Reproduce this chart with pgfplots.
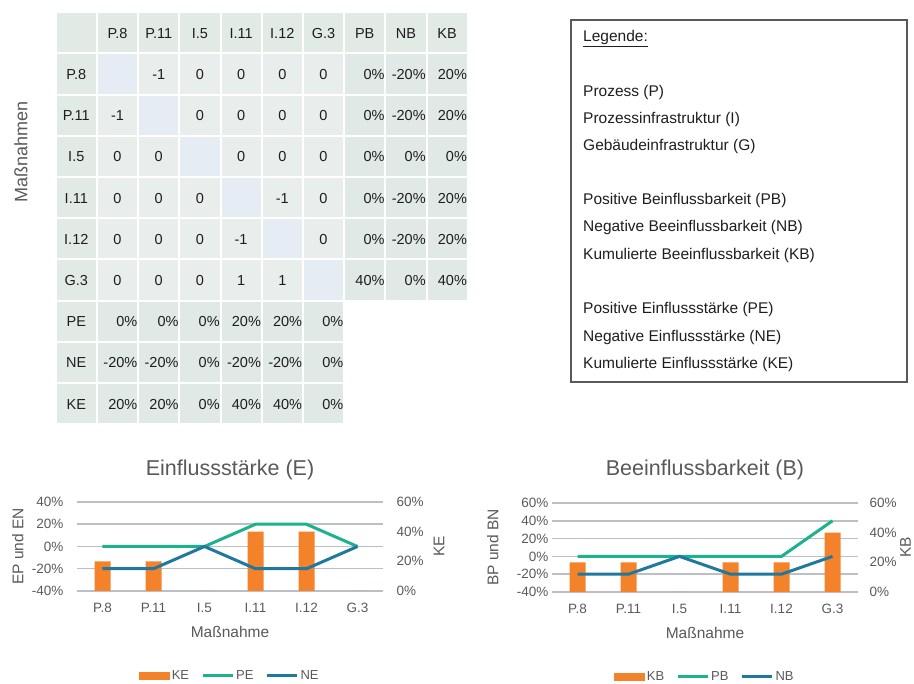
\documentclass[border=0pt]{standalone}
\usepackage{fontspec}
\setmainfont{Liberation Sans}
\usepackage{pgfplots}
\pgfplotsset{compat=1.18}

\definecolor{txt}{HTML}{595959}
\definecolor{dark}{HTML}{1E1E1E}
\definecolor{gridc}{HTML}{BCC0C6}
\definecolor{oran}{HTML}{F4822A}
\definecolor{pec}{HTML}{1BB28D}
\definecolor{nec}{HTML}{1F78A0}
\definecolor{labf}{HTML}{E2EAE6}
\definecolor{intf}{HTML}{E9EDEB}
\definecolor{pctf}{HTML}{E0E9E5}
\definecolor{diagf}{HTML}{E6ECF4}

\pgfplotsset{
  exc/.style={scale only axis, width=306pt, height=89pt, xmin=-0.5, xmax=5.5,
    axis line style={draw=none}, major tick length=0pt,
    ticklabel style={font=\fontsize{13.5}{16}\selectfont, text=txt},
    label style={font=\fontsize{15.5}{18}\selectfont, text=txt},
    title style={font=\fontsize{21.5}{24}\selectfont, text=txt},
    clip=false},
  lgd/.style={legend style={at={(axis description cs:0.5,-0.955)}, anchor=center,
    draw=none, fill=none, legend columns=-1, font=\fontsize{13}{15}\selectfont,
    text=txt, inner sep=0pt, nodes={inner sep=2pt},
    /tikz/every even column/.append style={column sep=10pt}}},
  lineleg/.style={line width=3pt, line join=round,
    legend image code/.code={\draw (0pt,0pt) -- (30pt,0pt);}},
}

\begin{document}
\begin{tikzpicture}
\path[use as bounding box] (0,0) rectangle (914pt,684pt);

% matrix of measures (pixel coordinates, y downwards)
\begin{scope}[x=1pt, y=-1pt, yshift=684pt, font=\fontsize{14.5}{17}\selectfont, text=dark]
\foreach \r [count=\j from 0] in {
  {,P.8,P.11,I.5,I.11,I.12,G.3,PB,NB,KB},
  {P.8,,-1,0,0,0,0,0\%,-20\%,20\%},
  {P.11,-1,,0,0,0,0,0\%,-20\%,20\%},
  {I.5,0,0,,0,0,0,0\%,0\%,0\%},
  {I.11,0,0,0,,-1,0,0\%,-20\%,20\%},
  {I.12,0,0,0,-1,,0,0\%,-20\%,20\%},
  {G.3,0,0,0,1,1,,40\%,0\%,40\%},
  {PE,0\%,0\%,0\%,20\%,20\%,0\%},
  {NE,-20\%,-20\%,0\%,-20\%,-20\%,0\%},
  {KE,20\%,20\%,0\%,40\%,40\%,0\%}}
{
  \foreach \t [count=\i from 0] in \r {
    \pgfmathtruncatemacro\kind{(\i==0||\j==0)?0:((\i==\j)?1:((\i>6||\j>6)?2:3))}
    \ifcase\kind \def\fc{labf}\or \def\fc{diagf}\or \def\fc{pctf}\or \def\fc{intf}\fi
    \fill[\fc] ({56.7+41.2*\i},{13.3+41.2*\j}) rectangle ++(39.2,39.2);
    \ifnum\kind=2
      \node[anchor=base east, inner sep=0pt] at ({56.7+41.2*\i+39.6},{13.3+41.2*\j+25.1}) {\t};
    \else
      \node[anchor=base, inner sep=0pt] at ({56.7+41.2*\i+19.6},{13.3+41.2*\j+25.1}) {\t};
    \fi
  }
}
\node[rotate=90, font=\fontsize{18}{20}\selectfont, text=txt] at (21,152) {Maßnahmen};

% legend box
\draw[draw=txt, line width=1.3pt] (571,20) rectangle (907,382);
\begin{scope}[every node/.style={anchor=base west, inner sep=0pt, font=\fontsize{15.5}{18}\selectfont}]
\node at (583,42) {\underline{Legende:}};
\node at (583,97) {Prozess (P)};
\node at (583,124) {Prozessinfrastruktur (I)};
\node at (583,151) {Gebäudeinfrastruktur (G)};
\node at (583,205) {Positive Beinflussbarkeit (PB)};
\node at (583,232) {Negative Beeinflussbarkeit (NB)};
\node at (583,260) {Kumulierte Beeinflussbarkeit (KB)};
\node at (583,314) {Positive Einflussstärke (PE)};
\node at (583,342) {Negative Einflussstärke (NE)};
\node at (583,369) {Kumulierte Einflussstärke (KE)};
\end{scope}

% chart grid lines (horizontal, one per left-axis tick)
\foreach \y in {502,524.25,546.5,568.75,591} \draw[gridc, line width=1.5] (77,\y) -- (383,\y);
\foreach \y in {503,520.8,538.6,556.4,574.2,592} \draw[gridc, line width=1.5] (552,\y) -- (858,\y);
\end{scope}

% ---------- Einflussstaerke ----------
\begin{axis}[exc, at={(77pt,93pt)}, anchor=south west,
  ymin=0, ymax=60, ytick={0,20,40,60}, yticklabels={0\%,20\%,40\%,60\%},
  yticklabel pos=right, xtick=\empty,
  yticklabel style={anchor=west, xshift=10pt},
  ylabel={KE}, ylabel style={at={(axis description cs:1.183,0.5)}, anchor=center}]
\addplot[ybar, bar width=16pt, fill=oran, draw=none]
  coordinates {(0,20) (1,20) (2,0) (3,40) (4,40) (5,0)};
\end{axis}
\begin{axis}[exc, lgd, at={(77pt,93pt)}, anchor=south west,
  ymin=-40, ymax=40, ytick={-40,-20,0,20,40},
  yticklabels={-40\%,-20\%,0\%,20\%,40\%},
  xtick={0,...,5}, xticklabels={P.8,P.11,I.5,I.11,I.12,G.3},
  xticklabel style={anchor=center, yshift=-17pt},
  yticklabel style={anchor=east, xshift=-10pt},
  xlabel={Maßnahme}, xlabel style={at={(axis description cs:0.5,-0.461)}, anchor=center},
  ylabel={EP und EN}, ylabel style={at={(axis description cs:-0.193,0.5)}, anchor=center},
  title={Einflussstärke (E)}, title style={at={(axis description cs:0.5,1.292)}, anchor=center}]
\addlegendimage{legend image code/.code={\fill[oran] (0pt,-3.5pt) rectangle (30pt,3.5pt);}}
\addlegendentry{KE}
\addplot[pec, lineleg] coordinates {(0,0) (1,0) (2,0) (3,20) (4,20) (5,0)};
\addlegendentry{PE}
\addplot[nec, lineleg] coordinates {(0,-20) (1,-20) (2,0) (3,-20) (4,-20) (5,0)};
\addlegendentry{NE}
\end{axis}

% ---------- Beeinflussbarkeit ----------
\begin{axis}[exc, at={(552pt,92pt)}, anchor=south west,
  ymin=0, ymax=60, ytick={0,20,40,60}, yticklabels={0\%,20\%,40\%,60\%},
  yticklabel pos=right, xtick=\empty,
  yticklabel style={anchor=west, xshift=8pt},
  ylabel={KB}, ylabel style={at={(axis description cs:1.155,0.5)}, anchor=center}]
\addplot[ybar, bar width=16pt, fill=oran, draw=none]
  coordinates {(0,20) (1,20) (2,0) (3,20) (4,20) (5,40)};
\end{axis}
\begin{axis}[exc, lgd, at={(552pt,92pt)}, anchor=south west,
  ymin=-40, ymax=60, ytick={-40,-20,0,20,40,60},
  yticklabels={-40\%,-20\%,0\%,20\%,40\%,60\%},
  xtick={0,...,5}, xticklabels={P.8,P.11,I.5,I.11,I.12,G.3},
  xticklabel style={anchor=center, yshift=-17pt},
  yticklabel style={anchor=east, xshift=0pt},
  xlabel={Maßnahme}, xlabel style={at={(axis description cs:0.5,-0.461)}, anchor=center},
  ylabel={BP und BN}, ylabel style={at={(axis description cs:-0.193,0.5)}, anchor=center},
  title={Beeinflussbarkeit (B)}, title style={at={(axis description cs:0.5,1.303)}, anchor=center}]
\addlegendimage{legend image code/.code={\fill[oran] (0pt,-3.5pt) rectangle (30pt,3.5pt);}}
\addlegendentry{KB}
\addplot[pec, lineleg] coordinates {(0,0) (1,0) (2,0) (3,0) (4,0) (5,40)};
\addlegendentry{PB}
\addplot[nec, lineleg] coordinates {(0,-20) (1,-20) (2,0) (3,-20) (4,-20) (5,0)};
\addlegendentry{NB}
\end{axis}
\end{tikzpicture}
\end{document}
